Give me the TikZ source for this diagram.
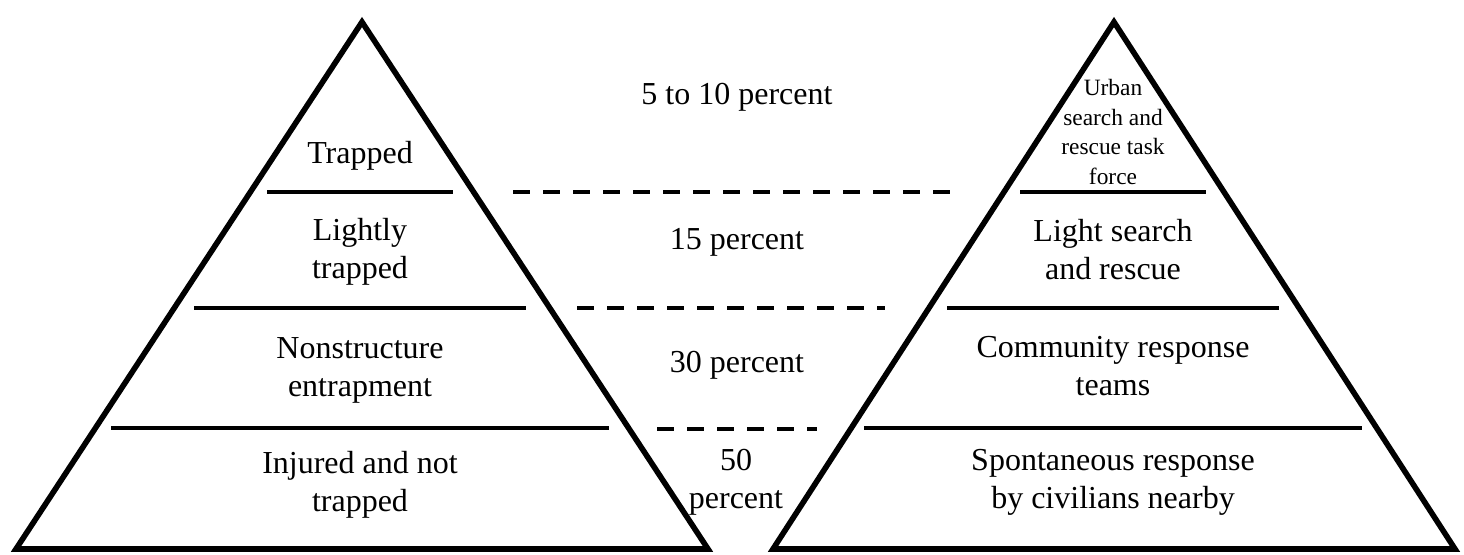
\documentclass[tikz,border=0pt]{standalone}
\usepackage{fontspec}
\setmainfont{Liberation Serif}

\begin{document}
\begin{tikzpicture}[
        x=0.5pt, y=-0.5pt,
        pyramid/.style={line width=2.8pt},
        tier/.style={line width=2pt},
        dashlink/.style={line width=2pt, dash pattern=on 8.5pt off 6.5pt},
        lbl/.style={align=center, inner sep=0pt, font=\fontsize{16}{19}\selectfont},
        lblsmall/.style={align=center, inner sep=0pt, font=\fontsize{11.7}{14.8}\selectfont}
    ]
    \useasboundingbox (0,0) rectangle (1464,554);

    % casualties
    \coordinate (lt) at (362,22);
    \coordinate (ll) at (16,549);
    \coordinate (lr) at (708,549);
    % responders
    \coordinate (rt) at (1114,22);
    \coordinate (rl) at (773,549);
    \coordinate (rr) at (1455,549);

    \draw[pyramid] (ll) -- (lt) -- (lr) -- cycle;
    \draw[pyramid] (rl) -- (rt) -- (rr) -- cycle;

    \foreach \Y/\Half in {192/93, 308/166, 428/249} {
        \draw[tier] (360-\Half,\Y) -- (360+\Half,\Y);
        \draw[tier] (1113-\Half,\Y) -- (1113+\Half,\Y);
    }

    \foreach \Y/\From/\To in {192/513/960, 308/577/885, 429/657/817}
        \draw[dashlink] (\From,\Y) -- (\To,\Y);

    \node[lbl] (trapped) at (360,156) {Trapped};
    \node[lbl] (lightly) at (360,252) {Lightly\\trapped};
    \node[lbl] (nonstruct) at (360,370) {Nonstructure\\entrapment};
    \node[lbl] (injured) at (360,485) {Injured and not\\trapped};

    \node[lbl] (pct5) at (737,97) {5 to 10 percent};
    \node[lbl] (pct15) at (737,242) {15 percent};
    \node[lbl] (pct30) at (737,365) {30 percent};
    \node[lbl] (pct50) at (736,482) {50\\percent};

    \node[lblsmall] (usar) at (1113,132) {Urban\\search and\\rescue task\\force};
    \node[lbl] (lightsar) at (1113,250) {Light search\\and rescue};
    \node[lbl] (community) at (1113,366) {Community response\\teams};
    \node[lbl] (civilians) at (1113,482) {Spontaneous response\\by civilians nearby};
\end{tikzpicture}
\end{document}
